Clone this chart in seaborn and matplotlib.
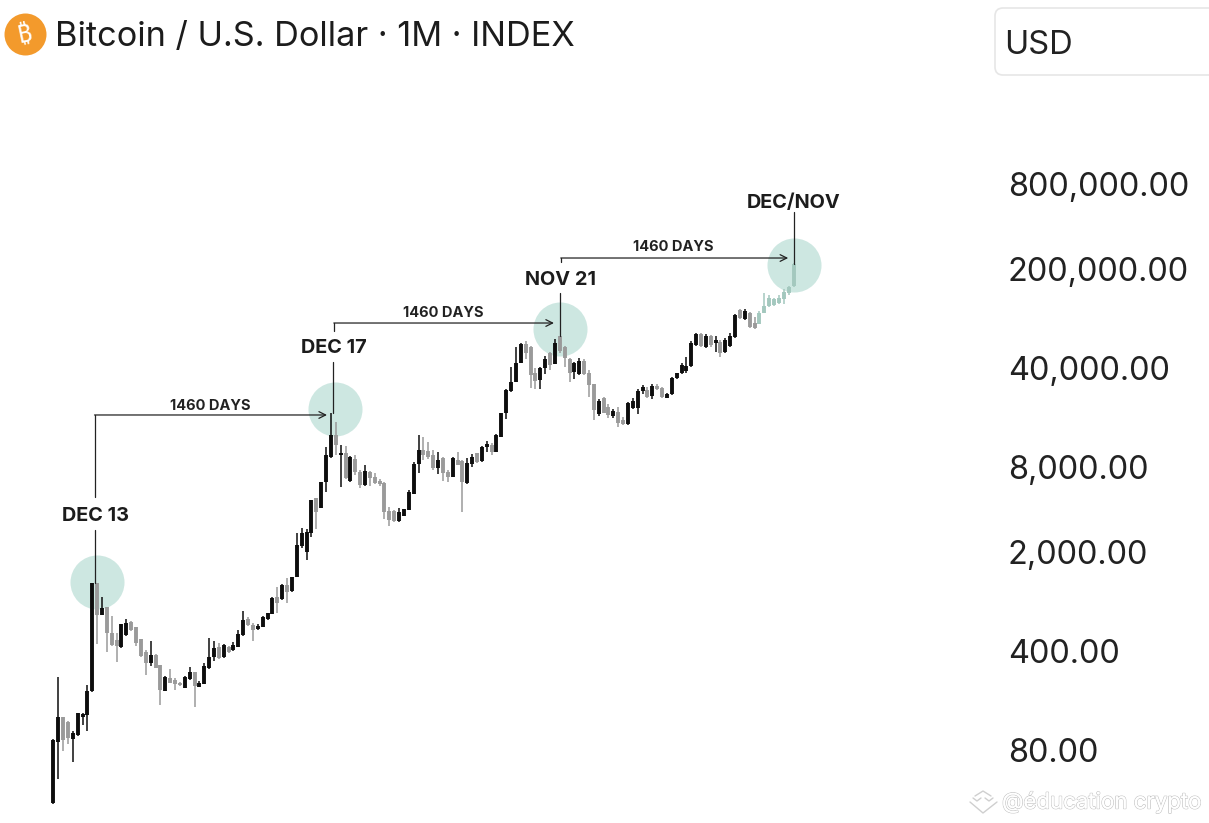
import numpy as np
import pandas as pd
import matplotlib
matplotlib.use("Agg")
import matplotlib.pyplot as plt
import matplotlib.patheffects as pe
from matplotlib.lines import Line2D
from matplotlib.patches import FancyBboxPatch
from matplotlib.transforms import IdentityTransform
from matplotlib.ticker import NullLocator
import seaborn as sns

# Monthly candles
opens = [33.7, 91.1, 137, 126.5, 95.7, 102, 137, 142, 209, 1212, 720, 820, 537, 479, 428, 520, 643, 592, 487, 394, 330, 376, 319, 209, 258, 250, 239, 220, 254, 285, 223, 235, 304, 364, 428, 364, 428, 407, 428, 520, 675, 612, 573, 592, 675, 732, 965, 934, 1173, 1064, 1336,
         2212, 2007, 2733, 4831, 4106, 6267, 9412, 13461, 9723, 10045, 6369, 9111, 7374, 5968, 7374, 6798, 6369, 6166, 3909, 3909, 3323, 3604, 3974, 5155, 8400, 10550, 10380, 9723, 7870, 9261, 7374, 6798, 8964, 8819, 6166, 8400, 10045, 8819, 11078, 11444, 10213, 13031, 19263, 27550, 31890, 43450, 59180, 56360, 36930, 32950,
         40060, 51120, 42740, 67410, 56360, 46370, 37560, 36330, 44890, 36930, 30870, 18950, 24590, 21230, 18350, 19590, 17190, 16100, 20890, 20890, 27550, 28000, 25400, 29880, 28930, 24590, 26220, 34040, 36930, 38150, 41380, 58230, 69640, 56360, 67410, 60150, 61150, 51960, 57290, 66330, 102900, 88900, 98030, 83300, 81960, 98030, 109900, 111600, 115300, 123100, 135700, 151900]
closes = [94.1, 137, 94.1, 97.2, 105.5, 147, 144, 209, 1212, 720, 807, 537, 442, 435, 622, 632, 564, 457, 370, 330, 376, 304, 212, 263, 239, 235, 231, 263, 285, 227, 239, 314, 364, 421, 358, 442, 394, 442, 529, 664, 612, 564, 602, 697, 744, 950, 876, 1173, 1047, 1336, 2249,
          2733, 2778, 4676, 3846, 6267, 9723, 13461, 11444, 10045, 6688, 9412, 7374, 5968, 7495, 6688, 6166, 6066, 3846, 3377, 3323, 3846, 4040, 5326, 8400, 10550, 9723, 9412, 7870, 8964, 7255, 6798, 9261, 8263, 6267, 8537, 9412, 8677, 11078, 11638, 10213, 13461, 19263, 28000, 31890, 43450, 59180, 51120, 35740, 32420, 40060,
          46370, 42060, 60150, 52800, 47130, 36930, 43450, 44890, 36330, 30370, 20220, 23420, 19263, 18650, 19900, 16360, 16100, 22670, 23420, 27550, 29390, 24990, 29880, 28460, 24990, 26220, 34040, 36930, 42060, 41380, 60150, 69640, 57290, 67410, 58230, 63170, 51120, 63170, 67410, 94870, 90360, 101200, 78100, 76790, 98030, 109900, 125100, 123100, 125100, 137900, 149600, 217500]
highs = [95.7, 263, 137, 128.5, 109, 147, 147, 231, 1212, 1212, 965, 820, 709, 537, 622, 675, 653, 592, 487, 407, 472, 382, 319, 267, 299, 258, 242, 267, 309, 285, 246, 330, 495, 472, 457, 449, 435, 464, 564, 769, 697, 632, 622, 709, 744, 965, 1135, 1192, 1314, 1336, 2733,
         2965, 2917, 4676, 4831, 6267, 11078, 19263, 16629, 11444, 11259, 9566, 9723, 7618, 8263, 7495, 7255, 6580, 6267, 4173, 3974, 4106, 4040, 5502, 8677, 13461, 13031, 12016, 10550, 10213, 9412, 7618, 9412, 10213, 8964, 9261, 9883, 10045, 11259, 12210, 11822, 13680, 19263, 28460, 40710, 56360, 60150, 62150, 57290, 40060, 40710,
         48690, 51960, 64200, 67410, 57290, 47130, 44160, 47130, 46370, 38770, 30870, 24190, 24990, 22300, 20550, 21230, 18050, 23040, 24590, 28460, 30370, 29390, 30870, 30870, 29390, 26650, 34600, 36930, 43450, 47900, 62150, 70790, 70790, 69640, 68520, 67410, 63170, 65260, 70790, 96420, 104600, 104600, 99640, 91830, 101200, 135700, 131300, 125100, 131300, 144800, 151900, 221100]
lows = [33.2, 49.9, 78.7, 88.2, 65.8, 100.5, 120.5, 109, 206, 449, 720, 394, 435, 335, 421, 512, 555, 435, 364, 271, 314, 304, 166, 209, 239, 212, 227, 220, 250, 161, 223, 235, 299, 341, 352, 358, 388, 401, 428, 512, 602, 472, 564, 592, 664, 732, 744, 919, 876, 1047, 1336,
        2142, 1762, 2561, 2917, 4106, 5326, 9261, 9723, 5777, 6580, 6267, 7022, 5684, 5866, 5866, 6066, 5866, 3432, 3063, 3269, 3269, 3604, 3974, 5155, 7255, 8964, 9111, 7618, 7138, 6369, 6267, 6798, 8263, 3846, 6066, 8001, 8537, 8677, 10213, 9723, 10213, 13031, 17470, 27100, 31890, 43450, 46370, 28930, 28460, 28460,
        36330, 38770, 42740, 51120, 40710, 31890, 33480, 35740, 35740, 24990, 17190, 18350, 19263, 17760, 17760, 15330, 15840, 15840, 20550, 18950, 26220, 24590, 24190, 28000, 24590, 24590, 25810, 33490, 36330, 36930, 40710, 57290, 56360, 55450, 56360, 51960, 47900, 51120, 56360, 65260, 88900, 87460, 76800, 75550, 81960, 98030, 108100, 109900, 113400, 113400, 131300, 149600]
projected_from = 145  # last candles are the pale projected ones

tick_prices = [800000, 200000, 40000, 8000, 2000, 400, 80]
tick_labels = ["800,000.00", "200,000.00", "40,000.00", "8,000.00", "2,000.00", "400.00", "80.00"]

# Halving-cycle tops (circles and labels)
top_names = ["DEC 13", "DEC 17", "NOV 21", "DEC/NOV"]
top_months = [9, 57.8, 104, 152.1]
top_prices = [1231, 20550, 75550, 214000]
name_months = [8.7, 57.6, 104.1, 152]
name_prices = [3604, 55450, 167700, 587000]

# Leader lines as (month, from price, to price)
leaders = [(8.46, 18650, 4910), (8.46, 2870, 1212),
           (57.4, 44160, 19263), (57.6, 83300, 73100),
           (104, 135700, 67410), (104.2, 239900, 224700),
           (152, 507000, 217500)]
# Arrows as (start month, end month, price)
arrows = [(8.46, 56.2, 18650), (57.6, 102.8, 83300), (104.2, 150.9, 239900)]
day_label = "1460 DAYS"
day_months = [32.2, 80, 127.4]
day_prices = [21580, 98000, 287000]

sns.set_theme(style="white")
plt.rcParams['font.family'] = 'Inter'

df = pd.DataFrame({'month': np.arange(len(opens)), 'open': opens, 'high': highs, 'low': lows, 'close': closes})
df['kind'] = np.where(df['close'] >= df['open'], 'up', 'down')
df.loc[df['month'] >= projected_from, 'kind'] = 'projected'

palette = {'up': '#0d0d0d', 'down': '#9a9a9a', 'projected': '#a3c8be'}
wicks = df.melt(id_vars=['month', 'kind'], value_vars=['high', 'low'], value_name='price')
bodies = df.melt(id_vars=['month', 'kind'], value_vars=['open', 'close'], value_name='price')

fig = plt.figure(figsize=(12.09, 8.23), dpi=100)
ax = fig.add_axes([0, 0, 1, 1])
ax.set_yscale('log')

# axis limits so the month spacing and price decades fit the frame
px_per_month = 4.87
px_per_decade = 141.5
ax.set_xlim(-53.3 / px_per_month, (1209 - 53.3) / px_per_month)
ax.set_ylim(80 * 10 ** ((750 - 823) / px_per_decade), 80 * 10 ** (750 / px_per_decade))

circles = pd.DataFrame({'month': top_months, 'price': top_prices})
sns.scatterplot(data=circles, x='month', y='price', s=1513, color='#cde7e1', linewidth=0, ax=ax, zorder=1)

sns.lineplot(data=wicks, x='month', y='price', units='month', hue='kind', palette=palette,
             estimator=None, linewidth=1.1, legend=False, ax=ax, zorder=2, solid_capstyle='butt')
sns.lineplot(data=bodies, x='month', y='price', units='month', hue='kind', palette=palette,
             estimator=None, linewidth=2.8, legend=False, ax=ax, zorder=3, solid_capstyle='butt')

for month, start, end in leaders:
    ax.plot([month, month], [start, end], color='#222222', lw=0.9, zorder=4)
for start, end, price in arrows:
    ax.annotate('', xy=(end, price), xytext=(start, price), zorder=4,
                arrowprops=dict(arrowstyle='->', color='#222222', lw=0.9, shrinkA=0, shrinkB=0))

for name, month, price in zip(top_names, name_months, name_prices):
    ax.text(month, price, name, ha='center', va='center', fontsize=14.3, fontweight='bold', color='#1c1c1c')
for month, price in zip(day_months, day_prices):
    ax.text(month, price, day_label, ha='center', va='center', fontsize=10.5, fontweight='bold', color='#222222')

# header
coin = pd.DataFrame({'month': [(25 - 53.3) / px_per_month], 'price': [80 * 10 ** ((750 - 34) / px_per_decade)]})
sns.scatterplot(data=coin, x='month', y='price', s=914, color='#f39a2c', linewidth=0, ax=ax)
fig.text(25 / 1209, 1 - 35 / 823, '\u20bf', ha='center', va='center', color='white', fontsize=18,
         fontweight='bold', family=['Noto Sans', 'Roboto', 'Open Sans', 'Lato', 'Inter', 'Liberation Sans'], rotation=12)
fig.text(55 / 1209, 1 - 37 / 823, 'Bitcoin / U.S. Dollar \u00b7 1M \u00b7 INDEX', ha='left', va='center',
         fontsize=24.7, color='#1c1c1c')

ax.set_xticks([])
ax.set_yticks(tick_prices, tick_labels)
ax.yaxis.set_minor_locator(NullLocator())
ax.tick_params(axis='y', length=0, pad=-1008 * 0.72, labelsize=23.4, labelcolor='#222222')
for lab in ax.get_yticklabels():
    lab.set_horizontalalignment('left')
ax.set(xlabel='', ylabel='')
sns.despine(ax=ax, left=True, bottom=True)

# currency box
box = FancyBboxPatch((995, 823 - 75), 300, 67, boxstyle='round,pad=0,rounding_size=8',
                     transform=IdentityTransform(), facecolor='white', edgecolor='#e6e6e6', lw=1.2)
fig.add_artist(box)
fig.text(1004 / 1209, 1 - 45 / 823, 'USD', ha='left', va='center', fontsize=23.5, color='#222222')

# watermark
mark = fig.text(1002 / 1209, 1 - 802 / 823, '@\u00e9ducation crypto', ha='left', va='center',
                fontsize=16, color='white')
mark.set_path_effects([pe.withStroke(linewidth=1.0, foreground='#c4c4c4'), pe.Normal()])
chevrons = [[(970, 802), (983, 813), (997, 802)],
            [(975, 796), (983, 791), (991, 796)],
            [(973, 798), (977, 801), (981, 798)],
            [(985, 798), (989, 801), (993, 798)]]
for chevron in chevrons:
    xs, ys = zip(*chevron)
    fig.add_artist(Line2D([x / 1209 for x in xs], [1 - y / 823 for y in ys], color='#cfcfcf', lw=1.0))

fig.savefig('out.png', dpi=100, facecolor='white')
